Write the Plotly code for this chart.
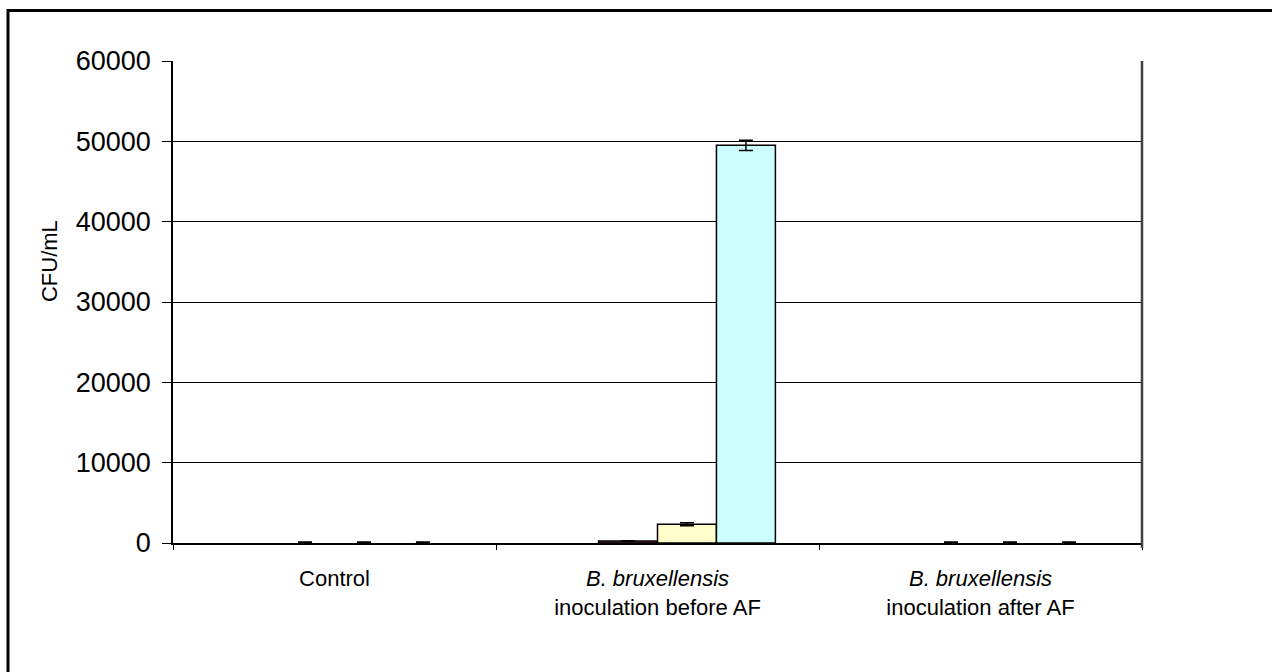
import plotly.graph_objects as go

# Sample groups on the x axis
categories = [
    "Control",
    "<i>B. bruxellensis</i><br>inoculation before AF",
    "<i>B. bruxellensis</i><br>inoculation after AF",
]

# Four sampling points per group (CFU/mL) with standard deviations
series_names = ["S1", "S2", "S3", "S4"]
series_values = [
    [0, 0, 0],
    [80, 250, 80],
    [80, 2330, 80],
    [80, 49500, 80],
]
series_errors = [
    [0, 0, 0],
    [60, 40, 60],
    [60, 180, 60],
    [60, 650, 60],
]
series_colors = ["#9999FF", "#993366", "#FFFFCC", "#CCFFFF"]

y_ticks = [0, 10000, 20000, 30000, 40000, 50000, 60000]

FONT = "Liberation Sans, Arial, sans-serif"

fig = go.Figure()
for name, vals, errs, col in zip(series_names, series_values, series_errors, series_colors):
    # bars too short to show a body are left unpainted; only their error caps show
    visible_bar = [v >= 200 for v in vals]
    fills = [col if s else "rgba(0,0,0,0)" for s in visible_bar]
    outline = [1.5 if s else 0 for s in visible_bar]
    fig.add_trace(go.Bar(
        name=name,
        x=categories,
        y=vals,
        marker=dict(color=fills, line=dict(color="black", width=outline)),
        error_y=dict(type="data", array=errs, visible=any(e > 0 for e in errs),
                     color="black", thickness=1.5, width=7),
    ))

fig.update_layout(
    barmode="group",
    bargap=0.27,
    bargroupgap=0,
    showlegend=False,
    width=1272,
    height=672,
    margin=dict(l=173, r=130, t=61, b=129),
    paper_bgcolor="white",
    plot_bgcolor="white",
    font=dict(family=FONT, color="black", size=22),
)

fig.update_yaxes(
    range=[0, 60000],
    tickvals=y_ticks,
    ticktext=[str(v) for v in y_ticks],
    showgrid=True,
    gridcolor="black",
    gridwidth=1,
    showline=True,
    linecolor="black",
    linewidth=1.5,
    ticks="outside",
    ticklen=9,
    tickcolor="black",
    tickfont=dict(size=27),
    ticklabelstandoff=6,
    zeroline=False,
)

fig.update_xaxes(
    showline=True,
    linecolor="black",
    linewidth=1.5,
    ticks="outside",
    tickson="boundaries",
    ticklen=5,
    tickcolor="black",
    tickfont=dict(size=22),
    ticklabelstandoff=15,
)

# Right edge of the plot area
fig.add_shape(type="line", xref="paper", yref="paper",
              x0=1, x1=1, y0=-0.01, y1=1,
              line=dict(color="#404040", width=2.5))

# Outer chart frame
fig.add_shape(type="rect", xref="paper", yref="paper",
              x0=(8 - 173) / 969, x1=1.3, y0=-0.4, y1=1 + (61 - 10.5) / 482,
              line=dict(color="black", width=3), layer="above")

# Y axis title
fig.add_annotation(text="CFU/mL", xref="paper", yref="paper",
                   x=(49 - 173) / 969, y=0.585, textangle=-90,
                   showarrow=False, font=dict(size=22),
                   xanchor="center", yanchor="middle")

fig.write_html("out.html")
